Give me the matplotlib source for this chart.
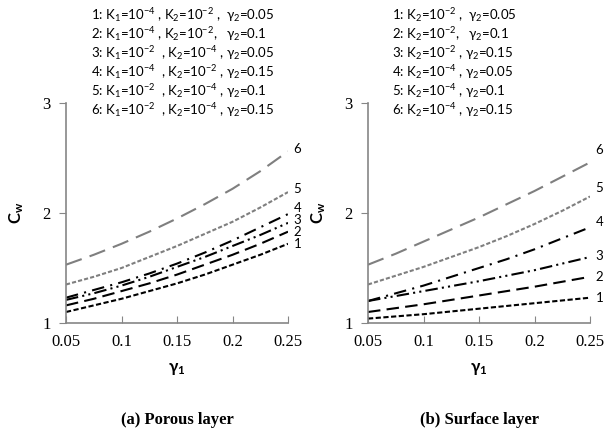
import matplotlib
matplotlib.use("Agg")
import matplotlib.pyplot as plt

plt.rcParams['font.family'] = ['Lato', 'DejaVu Sans']
plt.rcParams['mathtext.fontset'] = 'custom'
plt.rcParams['mathtext.rm'] = 'Lato'
plt.rcParams['mathtext.it'] = 'Lato:italic'
plt.rcParams['mathtext.bf'] = 'Lato:bold'

# data
gamma1 = [0.05, 0.075, 0.1, 0.125, 0.15, 0.175, 0.2, 0.225, 0.25]
xticks = [0.05, 0.1, 0.15, 0.2, 0.25]
xtick_labels = ['0.05', '0.1', '0.15', '0.2', '0.25']
curve_ids = ['1', '2', '3', '4', '5', '6']

porous = [
    [1.10, 1.16, 1.22, 1.29, 1.36, 1.44, 1.53, 1.62, 1.72],
    [1.16, 1.22, 1.29, 1.36, 1.44, 1.53, 1.62, 1.72, 1.83],
    [1.21, 1.27, 1.34, 1.42, 1.51, 1.60, 1.70, 1.80, 1.91],
    [1.23, 1.30, 1.37, 1.45, 1.54, 1.64, 1.75, 1.87, 1.99],
    [1.35, 1.42, 1.50, 1.60, 1.70, 1.81, 1.92, 2.05, 2.19],
    [1.53, 1.62, 1.72, 1.83, 1.95, 2.08, 2.22, 2.38, 2.56],
]
surface = [
    [1.04, 1.06, 1.08, 1.105, 1.13, 1.155, 1.18, 1.205, 1.23],
    [1.10, 1.135, 1.17, 1.21, 1.25, 1.29, 1.33, 1.375, 1.42],
    [1.20, 1.245, 1.29, 1.335, 1.38, 1.43, 1.48, 1.54, 1.60],
    [1.20, 1.27, 1.34, 1.42, 1.50, 1.58, 1.67, 1.77, 1.87],
    [1.35, 1.43, 1.51, 1.60, 1.69, 1.79, 1.90, 2.02, 2.15],
    [1.53, 1.63, 1.74, 1.85, 1.96, 2.08, 2.20, 2.33, 2.46],
]

porous_legend = [
    r"1: K$_1$=10$^{-4}$ , K$_2$=10$^{-2}$ ,  γ$_2$=0.05",
    r"2: K$_1$=10$^{-4}$ , K$_2$=10$^{-2}$,   γ$_2$=0.1",
    r"3: K$_1$=10$^{-2}$  , K$_2$=10$^{-4}$ , γ$_2$=0.05",
    r"4: K$_1$=10$^{-4}$  , K$_2$=10$^{-2}$ , γ$_2$=0.15",
    r"5: K$_1$=10$^{-2}$  , K$_2$=10$^{-4}$ , γ$_2$=0.1",
    r"6: K$_1$=10$^{-2}$  , K$_2$=10$^{-4}$ , γ$_2$=0.15",
]
surface_legend = [
    r"1: K$_2$=10$^{-2}$ ,  γ$_2$=0.05",
    r"2: K$_2$=10$^{-2}$,   γ$_2$=0.1",
    r"3: K$_2$=10$^{-2}$ , γ$_2$=0.15",
    r"4: K$_2$=10$^{-4}$ , γ$_2$=0.05",
    r"5: K$_2$=10$^{-4}$ , γ$_2$=0.1",
    r"6: K$_2$=10$^{-4}$ , γ$_2$=0.15",
]

styles = [
    dict(color='black', dashes=(2.5, 1.2)),
    dict(color='black', dashes=(6, 3)),
    dict(color='black', dashes=(6, 2, 1, 2, 1, 2)),
    dict(color='black', dashes=(6, 3, 1, 3)),
    dict(color='#7f7f7f', dashes=(2, 1)),
    dict(color='#7f7f7f', dashes=(8, 4)),
]

fig = plt.figure(figsize=(6.05, 4.32), dpi=100)
ax1 = fig.add_axes([66 / 605, 109 / 432, 222 / 605, 220 / 432])
ax2 = fig.add_axes([368 / 605, 109 / 432, 222 / 605, 220 / 432])

# label y positions (data units), spread apart where curves crowd
porous_label_y = [1.72, 1.83, 1.94, 2.05, 2.22, 2.58]
surface_label_y = [1.23, 1.42, 1.61, 1.92, 2.23, 2.57]

for ax, data, lab_y, legend, caption, legx in [
        (ax1, porous, porous_label_y, porous_legend, '(a) Porous layer', 91),
        (ax2, surface, surface_label_y, surface_legend, '(b) Surface layer', 392)]:
    for vals, st, cid, ly in zip(data, styles, curve_ids, lab_y):
        ax.plot(gamma1, vals, lw=1.5, **st)
        ax.text(0.255, ly, cid, fontsize=9.5, va='center', ha='left', clip_on=False)
    ax.set_xlim(0.05, 0.25)
    ax.set_ylim(1, 3)
    ax.set_xticks(xticks)
    ax.set_xticklabels(xtick_labels)
    ax.set_yticks([1, 2, 3])
    for s in ['top', 'right']:
        ax.spines[s].set_visible(False)
    for s in ['left', 'bottom']:
        ax.spines[s].set_color('#868686')
        ax.spines[s].set_linewidth(1.2)
    ax.tick_params(axis='x', direction='in', length=5, color='#868686', pad=8)
    ax.tick_params(axis='y', direction='out', length=5, color='#868686', pad=6)
    for t in ax.get_xticklabels() + ax.get_yticklabels():
        t.set_family('Liberation Serif')
        t.set_fontsize(12)
    ax.set_xlabel(r"γ$_\mathbf{1}$", fontsize=12, fontweight='bold', labelpad=8)
    ax.set_ylabel(r"C$_\mathbf{w}$", fontsize=12, fontweight='bold', labelpad=12)
    cx = ax.get_position().x0 + ax.get_position().width / 2
    fig.text(cx, 12 / 432, caption, family='Liberation Serif', fontweight='bold',
             fontsize=12, ha='center', va='center')
    for i, line in enumerate(legend):
        fig.text(legx / 605, 1 - (15 + i * 19) / 432, line, fontsize=9.5,
                 ha='left', va='center')

fig.savefig('out.png', dpi=100)
